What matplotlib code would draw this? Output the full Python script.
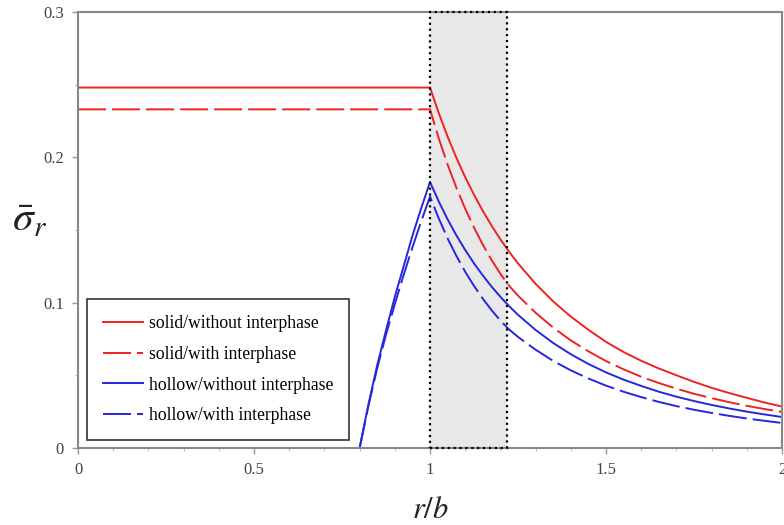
import numpy as np
import matplotlib.pyplot as plt
from matplotlib.patches import Rectangle

# r/b positions and radial stress values
r_core = [0.0, 1.0]
solid_no_int_core = [0.248, 0.248]
solid_int_core = [0.233, 0.233]

r_rise = [0.8, 0.825, 0.85, 0.875, 0.9, 0.925, 0.95, 0.975, 1.0]
hollow_no_int_rise = [0.0, 0.030, 0.057, 0.081, 0.104, 0.125, 0.146, 0.165, 0.183]
hollow_int_rise = [0.0, 0.029, 0.055, 0.078, 0.099, 0.119, 0.138, 0.156, 0.173]

r_out = [1.0, 1.025, 1.05, 1.075, 1.1, 1.125, 1.15, 1.175, 1.2, 1.225, 1.25,
         1.3, 1.35, 1.4, 1.45, 1.5, 1.55, 1.6, 1.65, 1.7, 1.75, 1.8, 1.85, 1.9, 1.95, 2.0]
solid_no_int_out = [0.248, 0.2303, 0.2142, 0.1996, 0.1863, 0.1742, 0.1631, 0.1529, 0.1435,
                    0.1349, 0.127, 0.1129, 0.1008, 0.0904, 0.0813, 0.073, 0.066, 0.060,
                    0.0547, 0.050, 0.0455, 0.0414, 0.0378, 0.0345, 0.0313, 0.0285]
solid_int_out = [0.233, 0.2129, 0.195, 0.179, 0.1646, 0.1516, 0.1399, 0.1293, 0.1198,
                 0.1115, 0.1048, 0.093, 0.0828, 0.074, 0.0665, 0.0598, 0.0541, 0.049,
                 0.0447, 0.0408, 0.0373, 0.0343, 0.0315, 0.029, 0.0268, 0.0248]
hollow_no_int_out = [0.183, 0.1695, 0.1573, 0.1462, 0.1362, 0.127, 0.1187, 0.111, 0.104,
                     0.0975, 0.0916, 0.0812, 0.0722, 0.0645, 0.0578, 0.052, 0.047, 0.0427,
                     0.0387, 0.0353, 0.0323, 0.0296, 0.0272, 0.025, 0.0231, 0.0213]
hollow_int_out = [0.173, 0.1578, 0.1442, 0.1321, 0.1212, 0.1115, 0.1027, 0.0948, 0.0876,
                  0.0815, 0.0764, 0.0676, 0.0599, 0.0534, 0.0478, 0.0429, 0.0387, 0.035,
                  0.0317, 0.0288, 0.0263, 0.0241, 0.0221, 0.0203, 0.0187, 0.0172]

interphase = (1.0, 1.22)

red = '#ee2222'
blue = '#2626dd'
dash = (14.4, 3.1)

plt.rcParams['mathtext.fontset'] = 'stix'
fig = plt.figure(figsize=(7.84, 5.25), dpi=100)
ax = fig.add_axes([0.0995, 0.1467, 0.898, 0.8305])

ax.axvspan(interphase[0], interphase[1], facecolor='#e8e8e8', edgecolor='none', zorder=0)
ax.add_patch(Rectangle((interphase[0], 0), interphase[1] - interphase[0], 0.3,
                       fill=False, edgecolor='black', linestyle=':', linewidth=1.6,
                       zorder=3, clip_on=False))

lw = 1.4
ax.plot(r_core + r_out, solid_no_int_core + solid_no_int_out, color=red, lw=lw,
        label='solid/without interphase')
ax.plot(r_core + r_out, solid_int_core + solid_int_out, color=red, lw=lw, dashes=dash,
        label='solid/with interphase')
ax.plot(r_rise + r_out, hollow_no_int_rise + hollow_no_int_out, color=blue, lw=lw,
        label='hollow/without interphase')
ax.plot(r_rise + r_out, hollow_int_rise + hollow_int_out, color=blue, lw=lw, dashes=dash,
        label='hollow/with interphase')

ax.set_xlim(0, 2)
ax.set_ylim(0, 0.3)
ax.set_xticks([0, 0.5, 1, 1.5, 2])
ax.set_xticklabels(['0', '0.5', '1', '1.5', '2'])
ax.set_yticks([0, 0.1, 0.2, 0.3])
ax.set_yticklabels(['0', '0.1', '0.2', '0.3'])
ax.set_xticks(np.arange(0, 2.01, 0.1), minor=True)
ax.set_yticks(np.arange(0, 0.301, 0.05), minor=True)
ax.tick_params(which='major', length=4, width=1, color='#999999', labelcolor='#444444',
               labelsize=12, pad=6)
ax.tick_params(which='minor', length=2, width=0.8, color='#bbbbbb')
for lab in ax.get_xticklabels() + ax.get_yticklabels():
    lab.set_family('Liberation Serif')

for s in ax.spines.values():
    s.set_color('#888888')
    s.set_linewidth(1.5)

ax.set_xlabel('$r/b$', fontsize=22, labelpad=12, color='#222222')
ax.set_ylabel(r'$\bar{\sigma}_r$', fontsize=30, rotation=0, va='center', color='#222222')
ax.yaxis.set_label_coords(-0.068, 0.525)

leg = ax.legend(loc='lower left', bbox_to_anchor=(0.0128, 0.018), borderaxespad=0,
                fancybox=False, edgecolor='#333333', framealpha=1, handlelength=2.3,
                handletextpad=0.3, labelspacing=0.78, borderpad=0.9,
                prop={'family': 'Liberation Serif', 'size': 12.7})
leg.get_frame().set_linewidth(1.2)

fig.savefig('out.png', dpi=100)
